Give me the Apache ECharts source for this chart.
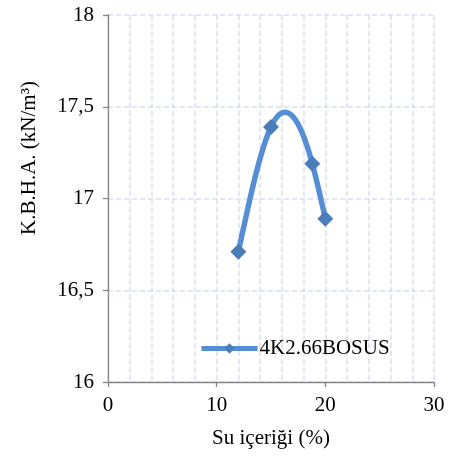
<!DOCTYPE html>
<html><head><meta charset="utf-8">
<script src="https://cdn.jsdelivr.net/npm/echarts@6/dist/echarts.min.js"></script>
<style>html,body{margin:0;padding:0;background:#fff}#c{width:452px;height:459px}</style>
</head><body><div id="c"></div>
<script>
const seriesName = '4K2.66BOSUS';
const waterContent = [12, 15, 18.8, 20];
const dryDensity = [16.71, 17.39, 17.19, 16.89];
const xAxisTitle = 'Su içeriği (%)';
const yAxisTitle = 'K.B.H.A. (kN/m³)';

const FONT = 'Liberation Serif, Times New Roman, serif';
const LINE_COLOR = '#558ED5';
const MARK_COLOR = '#4A7EBB';
const GRID_COLOR = '#D3DFF0';
const AXIS_COLOR = '#868686';

const pts = waterContent.map((x, i) => [x, dryDensity[i]]);

// natural cubic spline second derivatives (smoothed connecting line)
function splineM(xs, ys) {
  const n = xs.length, M = new Array(n).fill(0);
  if (n < 3) return M;
  const h = [], s = [];
  for (let i = 0; i < n - 1; i++) { h.push(xs[i + 1] - xs[i]); s.push((ys[i + 1] - ys[i]) / h[i]); }
  const a = [], b = [], c = [], d = [];
  for (let i = 1; i < n - 1; i++) {
    a.push(h[i - 1]); b.push(2 * (h[i - 1] + h[i])); c.push(h[i]); d.push(6 * (s[i] - s[i - 1]));
  }
  const m = b.length;
  for (let i = 1; i < m; i++) {
    const w = a[i] / b[i - 1];
    b[i] -= w * c[i - 1]; d[i] -= w * d[i - 1];
  }
  const sol = new Array(m);
  sol[m - 1] = d[m - 1] / b[m - 1];
  for (let i = m - 2; i >= 0; i--) sol[i] = (d[i] - c[i] * sol[i + 1]) / b[i];
  for (let i = 0; i < m; i++) M[i + 1] = sol[i];
  return M;
}
const M = splineM(waterContent, dryDensity);

function renderSeg(params, api) {
  const i = params.dataIndex;
  if (i >= pts.length - 1) return null;
  const x0 = waterContent[i], x1 = waterContent[i + 1];
  const y0 = dryDensity[i], y1 = dryDensity[i + 1];
  const h = x1 - x0, s = (y1 - y0) / h;
  const d0 = s - h * (2 * M[i] + M[i + 1]) / 6;
  const d1 = s + h * (M[i] + 2 * M[i + 1]) / 6;
  const p1 = api.coord([x0, y0]);
  const p2 = api.coord([x1, y1]);
  const c1 = api.coord([x0 + h / 3, y0 + d0 * h / 3]);
  const c2 = api.coord([x1 - h / 3, y1 - d1 * h / 3]);
  return {
    type: 'bezierCurve',
    shape: {x1: p1[0], y1: p1[1], x2: p2[0], y2: p2[1], cpx1: c1[0], cpy1: c1[1], cpx2: c2[0], cpy2: c2[1]},
    style: {stroke: LINE_COLOR, lineWidth: 5.5, fill: null, lineCap: 'round'}
  };
}

const dashed = {color: GRID_COLOR, width: 1.5, type: [5, 3]};
const chart = echarts.init(document.getElementById('c'));
chart.setOption({
  animation: false,
  grid: {left: 108, right: 18, top: 15, bottom: 77},
  legend: {
    data: [seriesName],
    left: 194, top: 333,
    itemWidth: 56, itemHeight: 13, itemGap: 4,
    textStyle: {fontFamily: FONT, fontSize: 21, color: '#000', padding: [0, 0, 0, -3]},
    lineStyle: {width: 5, color: LINE_COLOR, opacity: 1},
    itemStyle: {color: MARK_COLOR}
  },
  graphic: [{
    type: 'text', x: 29, y: 158, rotation: Math.PI / 2,
    style: {text: yAxisTitle, font: '21px ' + FONT, fill: '#000', textAlign: 'center', textVerticalAlign: 'middle'}
  }],
  xAxis: {
    type: 'value', min: 0, max: 30, interval: 10,
    name: xAxisTitle, nameLocation: 'middle', nameGap: 46,
    nameTextStyle: {fontFamily: FONT, fontSize: 21, color: '#000'},
    axisLine: {show: true, lineStyle: {color: AXIS_COLOR, width: 1.3}},
    axisTick: {show: true, length: 5, lineStyle: {color: AXIS_COLOR, width: 1.3}},
    axisLabel: {fontFamily: FONT, fontSize: 21, color: '#000', margin: 13},
    splitLine: {show: true, lineStyle: dashed},
    minorTick: {show: false, splitNumber: 5},
    minorSplitLine: {show: true, lineStyle: dashed}
  },
  yAxis: {
    type: 'value', min: 16, max: 18, interval: 0.5,
    axisLine: {show: true, lineStyle: {color: AXIS_COLOR, width: 1.3}},
    axisTick: {show: true, length: 5, lineStyle: {color: AXIS_COLOR, width: 1.3}},
    axisLabel: {fontFamily: FONT, fontSize: 21, color: '#000', margin: 14,
      formatter: v => String(v).replace('.', ',')},
    splitLine: {show: true, lineStyle: dashed}
  },
  series: [
    {
      type: 'custom', name: 'curve', data: pts, renderItem: renderSeg, z: 2,
      encode: {x: 0, y: 1}
    },
    {
      type: 'line', name: seriesName, data: pts, z: 3,
      symbol: 'diamond', symbolSize: 16, showSymbol: true,
      itemStyle: {color: MARK_COLOR},
      lineStyle: {width: 0, opacity: 0}
    }
  ]
});
</script>
</body></html>
